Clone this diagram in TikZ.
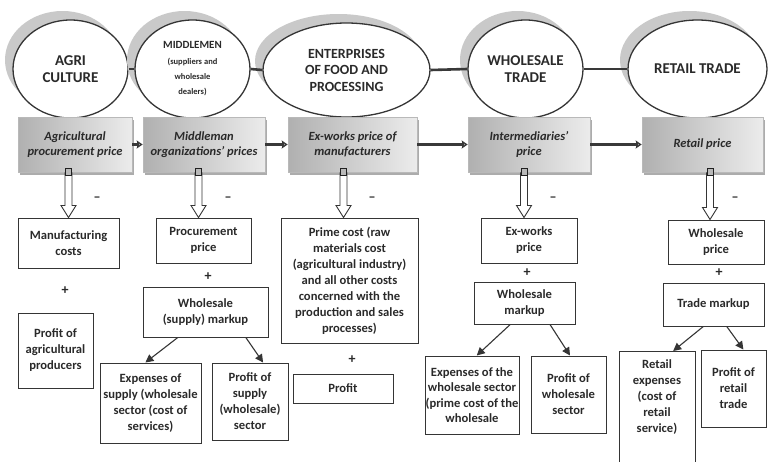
\documentclass[tikz,border=0pt]{standalone}
\usepackage{fontspec}
\setmainfont{Carlito}
\usetikzlibrary{shapes.geometric,arrows.meta,calc,shadows}
\definecolor{txt}{HTML}{2A2A2A}
\definecolor{edge}{HTML}{353535}
\newcommand{\hollowarr}[2]{%
  \draw[edge, line width=0.9pt, fill=white, line join=miter]
    ($(#1)+(-3.5,0)$) -- ($(#2)+(-3.5,-12)$) -- ($(#2)+(-7.5,-12)$) -- (#2)
    -- ($(#2)+(7.5,-12)$) -- ($(#2)+(3.5,-12)$) -- ($(#1)+(3.5,0)$);
  \draw[gray!25!black, fill=gray!55, line width=0.8pt] ($(#1)+(-3,-4)$) rectangle ($(#1)+(3,3)$);
}
\newcommand{\ovl}[1]{\makebox[0pt]{#1}}
\begin{document}
\begin{tikzpicture}[x=1pt,y=-1pt,
  ell/.style={ellipse, draw=edge, line width=1.3pt, fill=white, inner sep=0pt, align=center, text=txt,
    font=\fontsize{15}{17}\selectfont\bfseries,
    drop shadow={shadow xshift=-8pt,shadow yshift=9pt,fill=gray!42,opacity=1}},
  gbox/.style={rectangle, draw=gray!55, line width=0.6pt, left color=gray!62, right color=gray!15,
    inner sep=0pt, align=center, text=txt, font=\fontsize{12.5}{15}\selectfont\bfseries\itshape,
    drop shadow={shadow xshift=1.5pt,shadow yshift=-2.5pt,fill=gray!65,opacity=1}},
  sbox/.style={rectangle, draw=edge, line width=1pt, fill=white, inner sep=0pt, align=center, text=txt,
    font=\fontsize{12.6}{16}\selectfont\bfseries},
  sign/.style={text=txt, font=\fontsize{14}{14}\selectfont\bfseries, inner sep=0pt},
  ebar/.style={draw=gray!45!black, line width=2.6pt},
  garr/.style={draw=gray!45!black, line width=2.4pt, -{Stealth[length=6pt,width=8pt,inset=1pt,fill=gray!65]}},
  sarr/.style={draw=edge, line width=1.1pt, -{Triangle[length=8pt,width=8pt]}}
]
\fill[white] (0,0) rectangle (768,461);
\useasboundingbox (0,0) rectangle (768,461);

% ellipses
\node[ell, minimum width=115, minimum height=98] (e1) at (70.5,69) {AGRI\\CULTURE};
\node[ell, minimum width=115, minimum height=98] (e2) at (192.5,69)
  {{\fontsize{11}{13}\selectfont MIDDLEMEN}\\[-1pt]{\fontsize{8.5}{11}\selectfont (suppliers and}\\[-2pt]{\fontsize{8.5}{11}\selectfont wholesale}\\[-2pt]{\fontsize{8.5}{11}\selectfont dealers)}};
\node[ell, minimum width=167, minimum height=94, font=\fontsize{14}{16.5}\selectfont\bfseries] (e3) at (346.5,70) {ENTERPRISES\\OF FOOD AND\\PROCESSING};
\node[ell, minimum width=115, minimum height=98] (e4) at (525.5,69) {WHOLESALE\\TRADE};
\node[ell, minimum width=139, minimum height=98] (e5) at (697.5,69) {RETAIL TRADE};
\draw[ebar] (e1.east) -- (e2.west);
\draw[ebar] (e2.east) -- (e3.west);
\draw[ebar] (e3.east) -- (e4.west);
\draw[ebar] (e4.east) -- (e5.west);

% gray price boxes
\node[gbox, minimum width=114, minimum height=55] (g1) at (75,144.5) {Agricultural\\procurement price};
\node[gbox, minimum width=122, minimum height=55] (g2) at (204,144.5) {Middleman\\organizations’ prices};
\node[gbox, minimum width=129, minimum height=55] (g3) at (352.5,144.5) {Ex-works price of\\manufacturers};
\node[gbox, minimum width=122, minimum height=55] (g4) at (529,144.5) {Intermediaries’\\price};
\node[gbox, minimum width=121, minimum height=55] (g5) at (702.5,144.5) {Retail price};
\draw[garr] (g1.east) -- (g2.west);
\draw[garr] (g2.east) -- (g3.west);
\draw[garr] (g3.east) -- (g4.west);
\draw[garr] (g4.east) -- (g5.west);

% column 1
\node[sbox, minimum width=101, minimum height=50] (c1a) at (68.5,243) {Manufacturing\\costs};
\node[sbox, minimum width=75, minimum height=75] (c1b) at (55.5,350.5) {Profit of\\\ovl{agricultural}\\producers};
% column 2
\node[sbox, minimum width=95, minimum height=45] (c2a) at (203.5,240.5) {Procurement\\price};
\node[sbox, minimum width=125, minimum height=50] (c2b) at (205.5,312) {Wholesale\\(supply) markup};
\node[sbox, minimum width=101, minimum height=80] (c2c) at (150.5,403) {Expenses of\\\ovl{supply (wholesale}\\sector (cost of\\services)};
\node[sbox, minimum width=76, minimum height=77] (c2d) at (250,401.5) {Profit of\\supply\\\ovl{(wholesale)}\\sector};
% column 3
\node[sbox, minimum width=137, minimum height=125] (c3a) at (349.5,280.5) {Prime cost (raw\\materials cost\\(agricultural industry)\\and all other costs\\concerned with the\\production and sales\\processes)};
\node[sbox, minimum width=100, minimum height=29] (c3b) at (343,388.5) {Profit};
% column 4
\node[sbox, minimum width=96, minimum height=45] (c4a) at (529,240.5) {Ex-works\\price};
\node[sbox, minimum width=101, minimum height=42] (c4b) at (524.5,303) {Wholesale\\markup};
\node[sbox, minimum width=94, minimum height=78, font=\fontsize{12.6}{15.5}\selectfont\bfseries] (c4c) at (472,395) {\ovl{Expenses of the}\\\ovl{wholesale sector}\\\ovl{(prime cost of the}\\wholesale};
\node[sbox, minimum width=75, minimum height=77] (c4d) at (568.5,394.5) {Profit of\\wholesale\\sector};
% column 5
\node[sbox, minimum width=96, minimum height=44] (c5a) at (716,242) {Wholesale\\price};
\node[sbox, minimum width=101, minimum height=43] (c5b) at (713.5,304.5) {Trade markup};
\node[sbox, anchor=north, minimum width=76, inner ysep=8pt, text depth=110pt] (c5c) at (657,351) {Retail\\expenses\\(cost of\\retail\\service)};
\node[sbox, minimum width=65, minimum height=77] (c5d) at (733.5,388.5) {Profit of\\retail\\trade};

% hollow down arrows
\coordinate (b1) at (c1a.north);
\coordinate (t1) at (b1 |- g1.south);
\coordinate (b2) at ([xshift=-5pt]c2a.north);
\coordinate (t2) at (b2 |- g2.south);
\coordinate (b3) at ([xshift=-6pt]c3a.north);
\coordinate (t3) at (b3 |- g3.south);
\coordinate (b4) at ([xshift=-5pt]c4a.north);
\coordinate (t4) at (b4 |- g4.south);
\coordinate (b5) at ([xshift=-6pt]c5a.north);
\coordinate (t5) at (b5 |- g5.south);
\hollowarr{t1}{b1}
\hollowarr{t2}{b2}
\hollowarr{t3}{b3}
\hollowarr{t4}{b4}
\hollowarr{t5}{b5}

% signs
\node[sign] (m1) at (97,199) {–};
\node[sign] (m2) at (228,199) {–};
\node[sign] (m3) at (372,199) {–};
\node[sign] (m4) at (553,199) {–};
\node[sign] (m5) at (735,199) {–};
\node[sign] (p1) at (65,291) {+};
\node[sign] (p2) at (208,277) {+};
\node[sign] (p3) at (352,360) {+};
\node[sign] (p4) at (527,273) {+};
\node[sign] (p5) at (719,273) {+};

% split arrows
\draw[sarr] ($(c2b.south west)!0.28!(c2b.south east)$) -- ($(c2c.north west)!0.45!(c2c.north east)$);
\draw[sarr] ($(c2b.south west)!0.82!(c2b.south east)$) -- ($(c2d.north west)!0.67!(c2d.north east)$);
\draw[sarr] ($(c4b.south west)!0.36!(c4b.south east)$) -- ($(c4c.north west)!0.55!(c4c.north east)$);
\draw[sarr] ($(c4b.south west)!0.75!(c4b.south east)$) -- ($(c4d.north west)!0.52!(c4d.north east)$);
\draw[sarr] ($(c5b.south west)!0.40!(c5b.south east)$) -- ($(c5c.north west)!0.71!(c5c.north east)$);
\draw[sarr] ($(c5b.south west)!0.63!(c5b.south east)$) -- ($(c5d.north west)!0.65!(c5d.north east)$);
\end{tikzpicture}
\end{document}
